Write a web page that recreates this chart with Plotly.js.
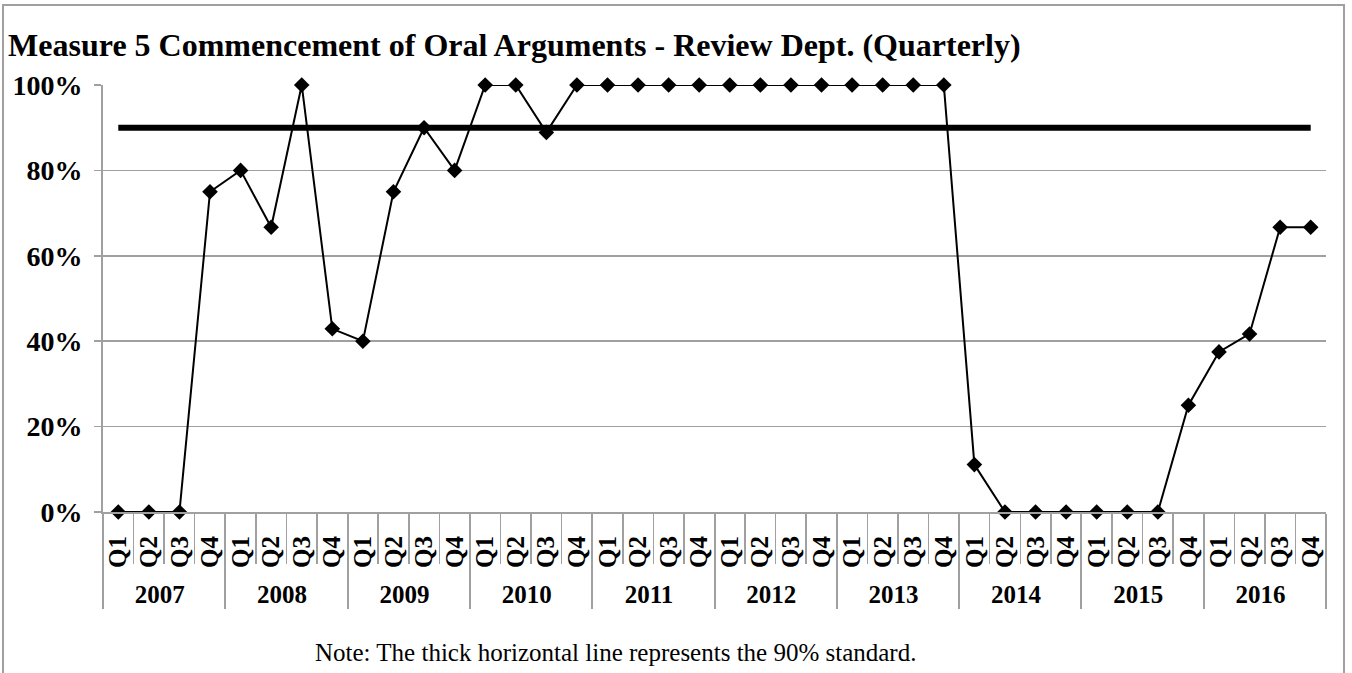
<!DOCTYPE html>
<html>
<head>
<meta charset="utf-8">
<script src="https://cdn.plot.ly/plotly-3.0.1.min.js"></script>
<style>
  html, body { margin: 0; padding: 0; background: #fff; }
  #frame { position: absolute; left: 2px; top: 4px; width: 1343px; height: 700px; border: 2px solid #a0a0a0; box-sizing: border-box; pointer-events: none; z-index: 5; }
  #chart { width: 1352px; height: 673px; }
</style>
</head>
<body>
<div id="frame"></div>
<div id="chart"></div>
<script>
const years = ["2007","2008","2009","2010","2011","2012","2013","2014","2015","2016"];
const quarters = ["Q1","Q2","Q3","Q4"];
const values = [
  0, 0, 0, 75,
  80, 66.7, 100, 42.9,
  40, 75, 90, 80,
  100, 100, 88.9, 100,
  100, 100, 100, 100,
  100, 100, 100, 100,
  100, 100, 100, 100,
  11.1, 0, 0, 0,
  0, 0, 0, 25,
  37.5, 41.7, 66.7, 66.7
];
const standard = 90;
const yTicks = [0, 20, 40, 60, 80, 100];

const xYear = [], xQ = [];
years.forEach(y => quarters.forEach(q => { xYear.push(y); xQ.push(q); }));
const nCat = xYear.length;

const font = "'Liberation Serif', 'Times New Roman', serif";

const traces = [
  {
    x: [xYear, xQ],
    y: values,
    mode: 'lines+markers',
    line: { color: '#000', width: 2 },
    marker: { symbol: 'diamond', size: 12, color: '#000' },
    cliponaxis: false,
    showlegend: false
  },
  {
    x: [[xYear[0], xYear[nCat-1]], [xQ[0], xQ[nCat-1]]],
    y: [standard, standard],
    mode: 'lines',
    line: { color: '#000', width: 6 },
    hoverinfo: 'skip',
    showlegend: false
  }
];

const layout = {
  width: 1352, height: 673,
  paper_bgcolor: '#fff', plot_bgcolor: '#fff',
  margin: { l: 103, r: 26, t: 85, b: 161 },
  title: {
    text: 'Measure 5 Commencement of Oral Arguments - Review Dept. (Quarterly)',
    font: { family: font, size: 32, color: '#000', weight: 'bold' },
    x: 0.006, xanchor: 'left', xref: 'container',
    y: 1 - 45/673, yanchor: 'middle', yref: 'container'
  },
  xaxis: {
    type: 'multicategory',
    categoryorder: 'trace',
    range: [-0.5, nCat - 0.5],
    tickmode: 'linear', tick0: 0, dtick: 1,
    tickangle: -90,
    tickfont: { family: font, size: 25, color: '#000', weight: 'bold' },
    ticklabelstandoff: 12,
    showgrid: false,
    showline: true, linecolor: '#a0a0a0', linewidth: 2,
    ticks: 'outside', tickson: 'boundaries', ticklen: 50, tickcolor: '#a0a0a0', tickwidth: 1.5,
    showdividers: true, dividercolor: '#a0a0a0', dividerwidth: 2,
    fixedrange: true
  },
  yaxis: {
    range: [0, 100],
    tickvals: yTicks,
    ticktext: yTicks.map(v => v + '%'),
    tickfont: { family: font, size: 28, color: '#000', weight: 'bold' },
    ticklabelstandoff: 6,
    showgrid: true, gridcolor: '#a0a0a0', gridwidth: 1.5,
    zeroline: false,
    showline: true, linecolor: '#a0a0a0', linewidth: 2,
    ticks: 'outside', ticklen: 7, tickcolor: '#a0a0a0', tickwidth: 1.5,
    fixedrange: true
  },
  annotations: [{
    text: 'Note: The thick horizontal line represents the 90% standard.',
    xref: 'paper', yref: 'paper',
    x: (615 - 103) / 1223, y: -(652 - 512) / 427,
    xanchor: 'center', yanchor: 'middle',
    showarrow: false,
    font: { family: font, size: 25, color: '#000' }
  }]
};

Plotly.newPlot('chart', traces, layout, { displayModeBar: false, staticPlot: true });
</script>
</body>
</html>
